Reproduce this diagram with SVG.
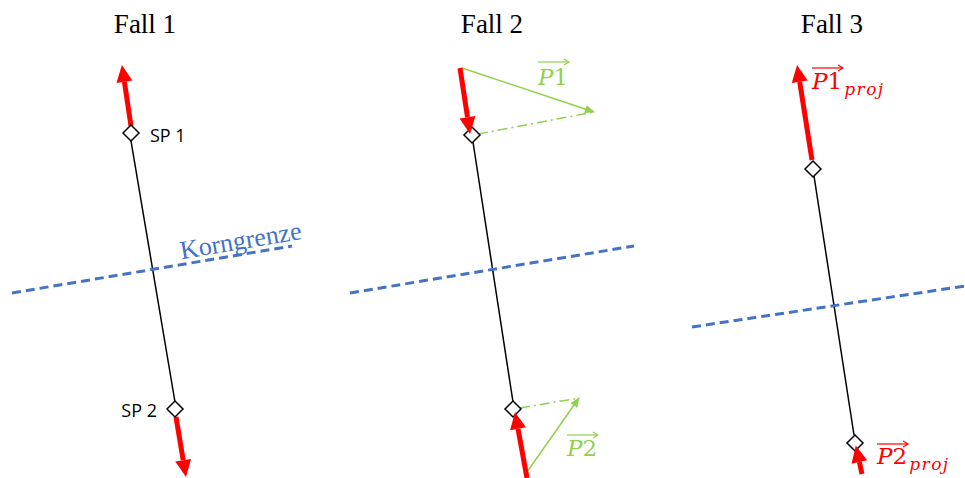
<svg xmlns="http://www.w3.org/2000/svg" width="965" height="478" viewBox="0 0 965 478">
<style>
.title{font-family:"Liberation Serif",serif;font-size:27px;fill:#000;text-anchor:middle}
.sp{font-family:"Open Sans",sans-serif;font-size:18px;fill:#000}
.vec{font-family:"DejaVu Serif",serif;font-style:italic;font-size:23px}
.up{font-style:normal}
.sub{font-size:17px;letter-spacing:1.5px}
.blk{stroke:#000;stroke-width:1.5;fill:none}
.dia{stroke:#000;stroke-width:1.5;fill:#fff}
.red{stroke:#FF0000;stroke-width:5;fill:none;marker-end:url(#rh)}
.grn{stroke:#92D050;stroke-width:1.5;fill:none;marker-end:url(#gh)}
.gdd{stroke:#92D050;stroke-width:1.5;fill:none;stroke-dasharray:10 4 2 4}
.blue{stroke:#4472C4;stroke-width:3;fill:none;stroke-dasharray:9 5}
.ovg{stroke:#92D050;stroke-width:1.2;fill:none}
.ovr{stroke:#FF0000;stroke-width:1.2;fill:none}
</style>
<defs>
<marker id="rh" markerUnits="userSpaceOnUse" markerWidth="18" markerHeight="16" refX="0" refY="8" orient="auto" overflow="visible">
<path d="M0,0 L17,8 L0,16 z" fill="#FF0000"/>
</marker>
<marker id="gh" markerUnits="userSpaceOnUse" markerWidth="10" markerHeight="8" refX="9" refY="4" orient="auto" overflow="visible">
<path d="M0,0 L10,4 L0,8 z" fill="#92D050"/>
</marker>
</defs>

<g id="titles">
<text class="title" x="145" y="33">Fall 1</text>
<text class="title" x="492" y="33">Fall 2</text>
<text class="title" x="832" y="33">Fall 3</text>
</g>

<g id="connectors">
<!-- Fall 1 -->
<line class="blk" x1="131" y1="141" x2="175" y2="402"/>
<line class="red" x1="131" y1="126" x2="124.4" y2="81.8"/>
<line class="red" x1="176" y1="417" x2="183.2" y2="460.2"/>
<line class="blue" x1="12" y1="293" x2="292" y2="246"/>
<!-- Fall 2 -->
<line class="blk" x1="473" y1="142" x2="513" y2="402"/>
<line class="blue" x1="350" y1="293" x2="634" y2="246"/>
<line class="grn" x1="462" y1="68" x2="594" y2="112"/>
<line class="gdd" x1="478" y1="134" x2="594" y2="112"/>
<line class="grn" x1="527" y1="472" x2="579" y2="398"/>
<line class="gdd" x1="520" y1="408" x2="579" y2="398"/>
<!-- Fall 3 -->
<line class="blk" x1="814" y1="176" x2="854" y2="435"/>
<line class="blue" x1="692" y1="327" x2="965" y2="286"/>
</g>

<g id="sp1_f1"><path class="dia" d="M131,125 L139,133 L131,141 L123,133 z"/></g>
<g id="sp2_f1"><path class="dia" d="M175,401 L183,409 L175,417 L167,409 z"/></g>
<g id="sp1_f2"><path class="dia" d="M472,127 L480,135 L472,143 L464,135 z"/></g>
<g id="sp2_f2"><path class="dia" d="M513,401 L521,409 L513,417 L505,409 z"/></g>
<g id="sp1_f3"><path class="dia" d="M813,161 L821,169 L813,177 L805,169 z"/></g>
<g id="sp2_f3"><path class="dia" d="M855,435 L863,443 L855,451 L847,443 z"/></g>

<g id="red_arrows_f2f3">
<line class="red" x1="460" y1="68" x2="467.5" y2="117.2"/>
<line class="red" x1="527" y1="478" x2="518" y2="428.7"/>
<line class="red" x1="812" y1="160" x2="799.7" y2="81.8"/>
<line class="red" x1="862" y1="474" x2="859.4" y2="462"/>
</g>

<g id="labels">
<text class="sp" x="150" y="142">SP 1</text>
<text class="sp" x="157" y="417" text-anchor="end">SP 2</text>
<text x="242" y="249" transform="rotate(-9.5 242 249)" font-family="Liberation Serif,serif" font-size="26" fill="#4472C4" text-anchor="middle">Korngrenze</text>

<text class="vec" x="538" y="85" fill="#92D050">P<tspan class="up">1</tspan></text>
<line class="ovg" x1="538" y1="62" x2="569" y2="62"/><path class="ovg" d="M564,59 L569,62 L564,65"/>
<text class="vec" x="567" y="456" fill="#92D050">P<tspan class="up">2</tspan></text>
<line class="ovg" x1="567" y1="435" x2="598" y2="435"/><path class="ovg" d="M593,432 L598,435 L593,438"/>

<text class="vec" x="812" y="89" fill="#FF0000">P<tspan class="up">1</tspan><tspan class="sub" dx="2" dy="6">proj</tspan></text>
<line class="ovr" x1="812" y1="68" x2="843" y2="68"/><path class="ovr" d="M838,65 L843,68 L838,71"/>
<text class="vec" x="877" y="464" fill="#FF0000">P<tspan class="up">2</tspan><tspan class="sub" dx="2" dy="6">proj</tspan></text>
<line class="ovr" x1="877" y1="444" x2="908" y2="444"/><path class="ovr" d="M903,441 L908,444 L903,447"/>
</g>
</svg>
